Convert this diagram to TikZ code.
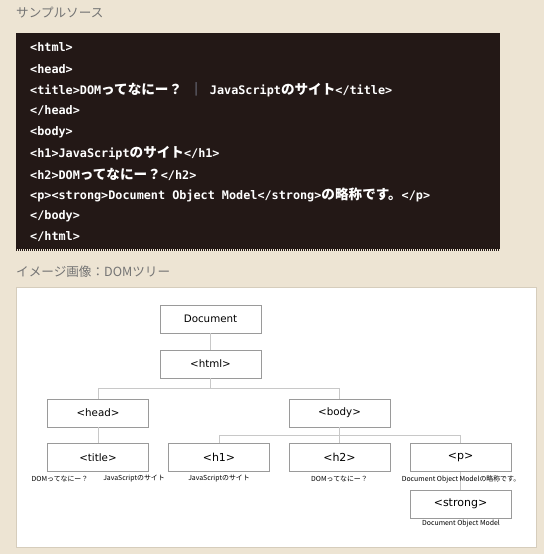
\documentclass[tikz,border=0pt]{standalone}
\usepackage{fontspec}
\usetikzlibrary{calc}
\newfontfamily\cjk{Noto Sans CJK JP}
\newfontfamily\cmono{DejaVu Sans Mono}
\newfontfamily\tsans{DejaVu Sans}
\definecolor{bg}{HTML}{EDE4D3}
\definecolor{codebg}{HTML}{231816}
\definecolor{headgray}{HTML}{747474}
\definecolor{boxgray}{HTML}{9A9A9A}
\definecolor{conngray}{HTML}{C8C8C8}
\definecolor{panelline}{HTML}{D6CDBC}
\definecolor{barcol}{HTML}{A8B4D0}
\newcommand\cL[1]{{\cmono\bfseries\fontsize{11.8}{13}\selectfont #1}}
\newcommand\cJ[1]{{\cjk\bfseries\fontsize{13.6}{15}\selectfont #1}}
\begin{document}
\begin{tikzpicture}[x=1pt,y=-1pt,
  codeline/.style={anchor=west,text=white,inner sep=0pt},
  header/.style={anchor=west,text=headgray,inner sep=0pt,font=\cjk\fontsize{12.6}{14}\selectfont},
  treebox/.style={draw=boxgray,fill=white,line width=0.8pt,minimum width=101pt,minimum height=28pt,inner sep=0pt,font=\tsans\fontsize{10.3}{12}\selectfont},
  bigbox/.style={treebox,font=\tsans\fontsize{11}{13}\selectfont},
  conn/.style={draw=conngray,line width=0.8pt},
  small/.style={inner sep=0pt,font=\cjk\fontsize{6.9}{8}\selectfont}]
\fill[bg] (0,0) rectangle (544,554);
\useasboundingbox (0,0) rectangle (544,554);
% headers
\node[header] (h_src) at (16,13) {サンプルソース};
\node[header] (h_img) at (16,272) {イメージ画像：DOMツリー};
% code box
\fill[codebg] (16,33) rectangle (500,248.5);
\draw[codebg,line width=2pt,dash pattern=on 1pt off 1pt] (16,249.5) -- (500,249.5);
\node[codeline] (c1) at (30,47) {\cL{<html>}};
\node[codeline] (c2) at (30,69) {\cL{<head>}};
\node[codeline] (c3) at (30,90) {\cL{<title>DOM}\cJ{ってなにー？}\cL{ }{\cjk\fontsize{13.6}{15}\selectfont\color{barcol}｜}\cL{ JavaScript}\cJ{のサイト}\cL{</title>}};
\node[codeline] (c4) at (30,111) {\cL{</head>}};
\node[codeline] (c5) at (30,132) {\cL{<body>}};
\node[codeline] (c6) at (30,153) {\cL{<h1>JavaScript}\cJ{のサイト}\cL{</h1>}};
\node[codeline] (c7) at (30,174) {\cL{<h2>DOM}\cJ{ってなにー？}\cL{</h2>}};
\node[codeline] (c8) at (30,195) {\cL{<p><strong>Document Object Model</strong>}\cJ{の略称です。}\cL{</p>}};
\node[codeline] (c9) at (30,216) {\cL{</body>}};
\node[codeline] (c10) at (30,237) {\cL{</html>}};
% panel
\filldraw[fill=white,draw=panelline,line width=0.8pt] (16,287) rectangle (536,547);
% tree nodes
\node[treebox] (doc) at (210.5,319) {Document};
\node[treebox] (html) at (210.5,364) {<html>};
\node[treebox] (head) at (98,413) {<head>};
\node[treebox] (body) at (339.5,413) {<body>};
\node[treebox] (title) at (98,457.5) {<title>};
\node[bigbox] (h1) at (219,457.5) {<h1>};
\node[bigbox] (h2) at (339.5,457.5) {<h2>};
\node[bigbox] (p) at (460.5,457.5) {<p>};
\node[bigbox] (strong) at (460.5,504) {<strong>};
% connectors
\draw[conn] (doc) -- (html);
\coordinate (hb) at ($(html.south)+(0,10)$);
\draw[conn] (html.south) -- (hb);
\draw[conn] (head.north) |- (hb) -| (body.north);
\draw[conn] (head) -- (title);
\coordinate (bb) at ($(body.south)+(0,8)$);
\draw[conn] (body.south) -- (bb);
\draw[conn] (h1.north) |- (bb) -| (p.north);
\draw[conn] (bb) -- (h2.north);
\draw[conn] (p) -- (strong);
% leaf labels
\node[small] (l1) at (60,479) {DOMってなにー？};
\node[small] (l2) at (134,479) {JavaScriptのサイト};
\node[small] (l3) at (219,479) {JavaScriptのサイト};
\node[small] (l4) at (339.5,479) {DOMってなにー？};
\node[small] (l5) at (461,479) {Document Object Modelの略称です。};
\node[small] (l6) at (461,524) {Document Object Model};
\end{tikzpicture}
\end{document}
